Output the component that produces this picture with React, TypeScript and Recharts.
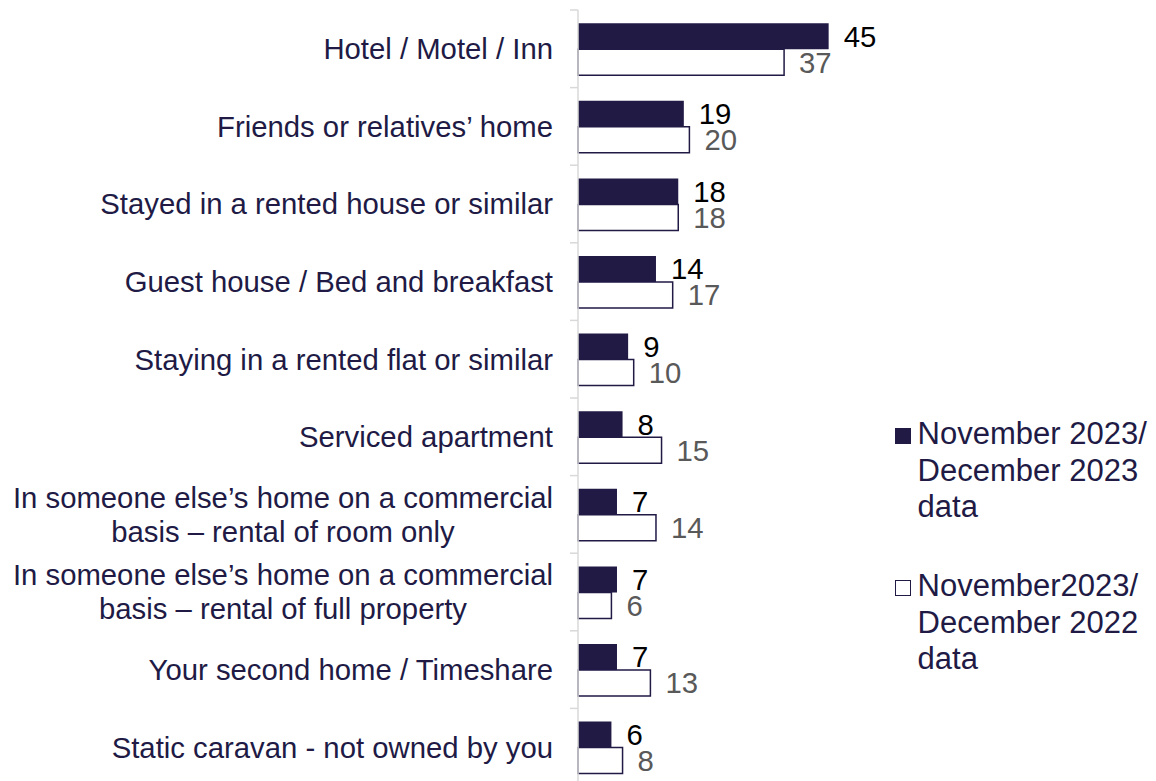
import React from 'react';
import { BarChart, Bar, XAxis, YAxis, LabelList, Legend } from 'recharts';

const categories = [
  'Hotel / Motel / Inn',
  'Friends or relatives’ home',
  'Stayed in a rented house or similar',
  'Guest house / Bed and breakfast',
  'Staying in a rented flat or similar',
  'Serviced apartment',
  'In someone else’s home on a commercial\nbasis – rental of room only',
  'In someone else’s home on a commercial\nbasis – rental of full property',
  'Your second home / Timeshare',
  'Static caravan - not owned by you',
];

const nov2023 = [45, 19, 18, 14, 9, 8, 7, 7, 7, 6];
const nov2022 = [37, 20, 18, 17, 10, 15, 14, 6, 13, 8];

const seriesNames = [
  'November 2023/\nDecember 2023\ndata',
  'November2023/\nDecember 2022\ndata',
];

const data = categories.map((name, i) => ({ name, a: nov2023[i], b: nov2022[i] }));

const NAVY = '#201A45';
const FONT = '"Liberation Sans", Arial, sans-serif';
const FS = 29.3;
const CW = 1156;
const CH = 800;
const MARGIN = { top: 10, right: 299.5, bottom: 14, left: 0 };
const BAND = (CH - MARGIN.top - MARGIN.bottom) / categories.length;

let canvas: HTMLCanvasElement | null = null;
function measure(text: string): number {
  if (!canvas) canvas = document.createElement('canvas');
  const ctx = canvas.getContext('2d');
  if (!ctx) return text.length * FS * 0.5;
  ctx.font = `${FS}px "Liberation Sans", Arial, sans-serif`;
  return ctx.measureText(text).width;
}

const CategoryTick = (props: any) => {
  const { x, y, payload, index } = props;
  const lines = String(payload.value).split('\n');
  const right = x - 25;
  const n = lines.length;
  const lh = 34;
  let anchor: 'end' | 'middle' = 'end';
  let tx = right;
  if (n > 1) {
    const maxW = Math.max(...lines.map(measure));
    anchor = 'middle';
    tx = right - maxW / 2;
  }
  return (
    <g>
      <line x1={x - 8} x2={x} y1={y - BAND / 2} y2={y - BAND / 2} stroke="#d9d9d9" strokeWidth={1.5} />
      {index === categories.length - 1 && (
        <line x1={x - 8} x2={x} y1={y + BAND / 2} y2={y + BAND / 2} stroke="#d9d9d9" strokeWidth={1.5} />
      )}
      {lines.map((ln, i) => (
        <text
          key={i}
          x={tx}
          y={y + 0.355 * FS + (i - (n - 1) / 2) * lh}
          textAnchor={anchor}
          fontFamily={FONT}
          fontSize={FS}
          fill={NAVY}
        >
          {ln}
        </text>
      ))}
    </g>
  );
};

const LegendContent = () => (
  <div style={{ fontFamily: FONT, fontSize: 31, lineHeight: '36.7px', color: NAVY }}>
    {seriesNames.map((nm, i) => (
      <div key={i} style={{ position: 'relative', paddingLeft: 24.6, marginBottom: i === 0 ? 41.9 : 0 }}>
        <div
          style={{
            position: 'absolute',
            left: 2,
            top: 12.5,
            width: 16,
            height: 16,
            boxSizing: 'border-box',
            background: i === 0 ? NAVY : '#ffffff',
            border: i === 0 ? 'none' : `1.5px solid ${NAVY}`,
          }}
        />
        {nm.split('\n').map((ln, j) => (
          <div key={j} style={{ whiteSpace: 'nowrap' }}>{ln}</div>
        ))}
      </div>
    ))}
  </div>
);

export default function App() {
  return (
    <div style={{ position: 'fixed', left: 0, top: 0, width: CW, height: 781, overflow: 'hidden', background: '#ffffff' }}>
      <BarChart
        width={CW}
        height={CH}
        data={data}
        layout="vertical"
        margin={MARGIN}
        barCategoryGap="17%"
        barGap={0}
      >
        <XAxis type="number" domain={[0, 50]} hide />
        <YAxis
          type="category"
          dataKey="name"
          width={578}
          tickSize={0}
          tickMargin={0}
          tickLine={false}
          axisLine={{ stroke: '#d9d9d9', strokeWidth: 1.5 }}
          tick={<CategoryTick />}
          interval={0}
        />
        <Legend
          layout="horizontal"
          align="center"
          verticalAlign="middle"
          content={<LegendContent />}
          wrapperStyle={{ position: 'absolute', left: 893, top: 415.9, width: 263, height: 260 }}
        />
        <Bar dataKey="a" name={seriesNames[0]} fill={NAVY} isAnimationActive={false}>
          <LabelList dataKey="a" position="right" offset={15} fill="#000000" fontSize={FS} fontFamily={FONT} />
        </Bar>
        <Bar dataKey="b" name={seriesNames[1]} fill="#ffffff" stroke={NAVY} strokeWidth={1.5} isAnimationActive={false}>
          <LabelList dataKey="b" position="right" offset={15} fill="#595959" fontSize={FS} fontFamily={FONT} stroke="none" />
        </Bar>
      </BarChart>
    </div>
  );
}
